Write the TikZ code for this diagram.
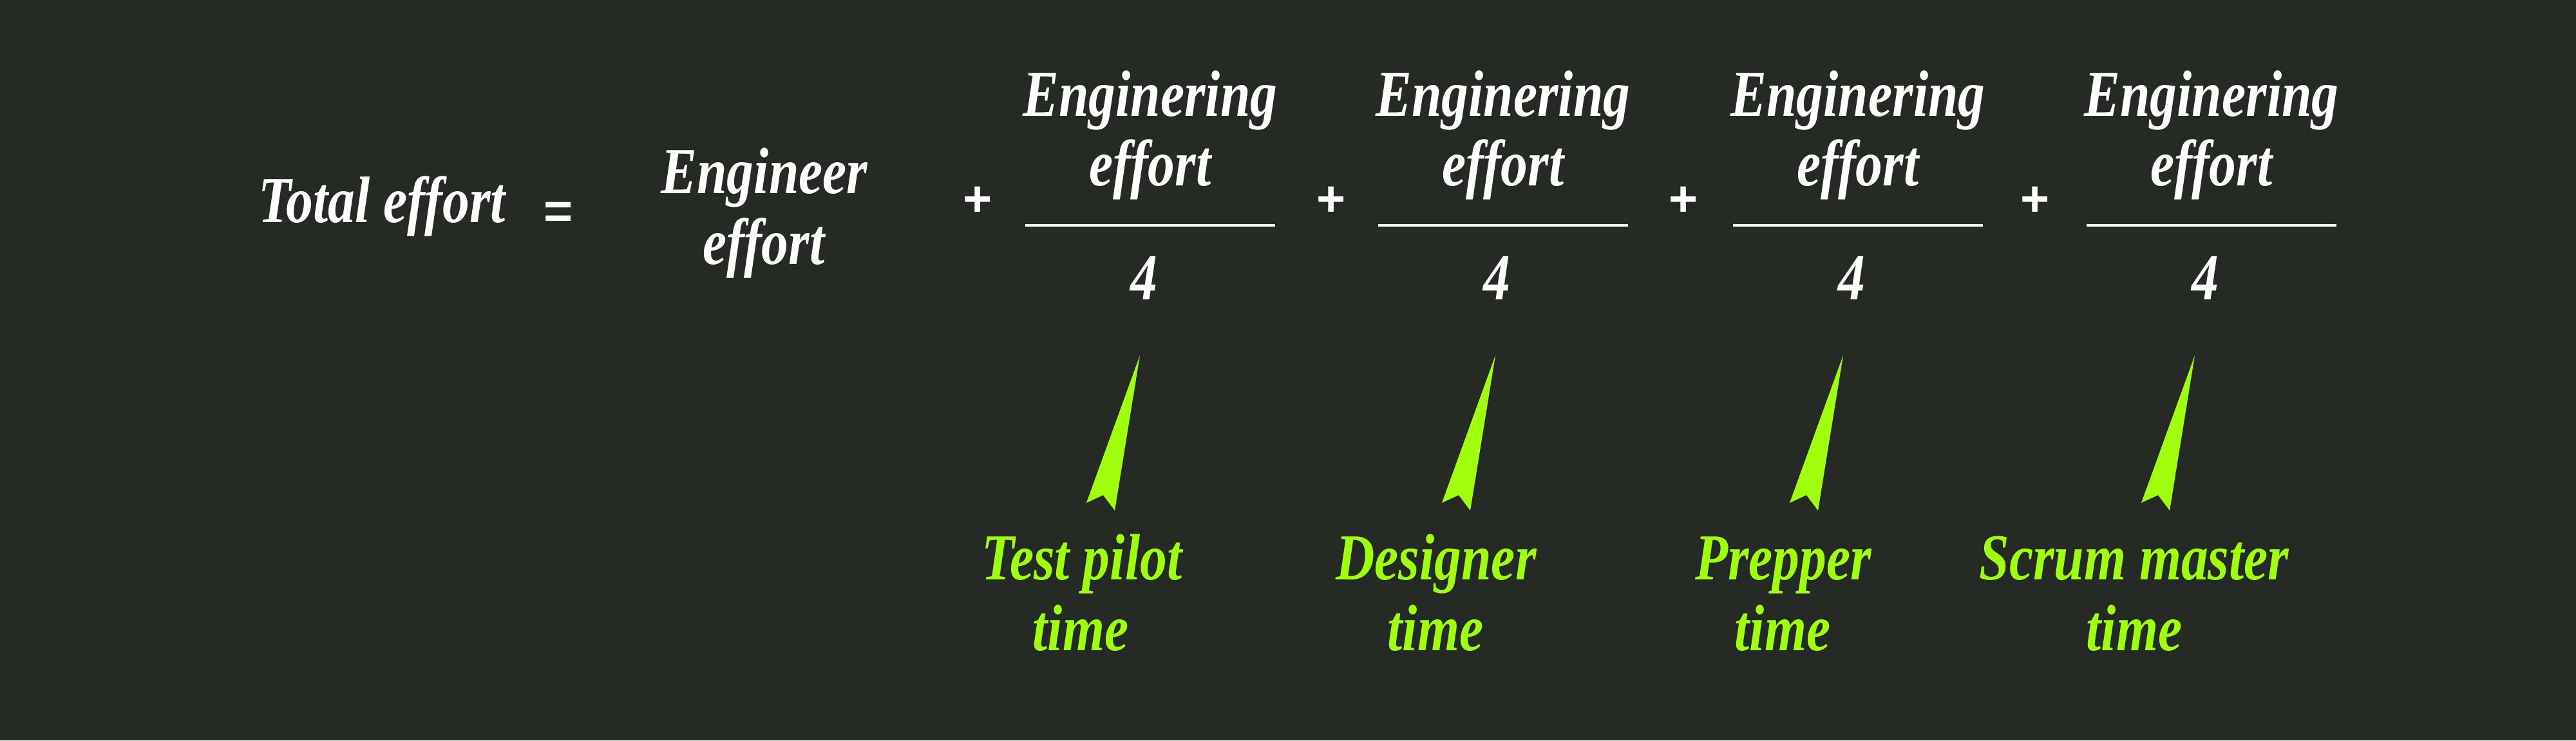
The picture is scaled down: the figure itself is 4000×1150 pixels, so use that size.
\documentclass[tikz,border=0pt]{standalone}
\usepackage{fontspec}
\setmainfont{Liberation Serif}
\newfontfamily\handf[FakeStretch=0.82]{Liberation Serif}
\newfontfamily\symf{Liberation Sans}
\definecolor{bgc}{HTML}{262A25}
\definecolor{limec}{HTML}{A0FF0C}
\tikzset{
  wtxt/.style={text=white, font=\handf\bfseries\itshape\fontsize{29}{34}\selectfont, anchor=base, inner sep=0pt},
  gtxt/.style={wtxt, text=limec},
  optxt/.style={text=white, font=\symf\bfseries\fontsize{22}{26}\selectfont, inner sep=0pt},
  fracbar/.style={draw=white, line width=1.4pt},
  pointer/.style={fill=limec}
}
\begin{document}
\begin{tikzpicture}[x=0.01cm,y=-0.01cm]
\fill[bgc] (0,0) rectangle (4000,1150);
\useasboundingbox (0,0) rectangle (4000,1150);
% left side
\node[wtxt] (total) at (593,345) {Total effort};
\node[optxt] (eq) at (867,334) {=};
\node[wtxt] (eng1) at (1187,300) {Engineer};
\node[wtxt] (eng2) at (1186,410) {effort};
% fractions
\foreach \i/\cx/\px in {1/1786/1518, 2/2334/2067, 3/2885/2614, 4/3434/3160}{
  \node[optxt] (plus\i) at (\px,313) {+};
  \node[wtxt] (numa\i) at (\cx,180) {Enginering};
  \node[wtxt] (numb\i) at (\cx,288) {effort};
  \coordinate (barl\i) at ({\cx-194},350);
  \coordinate (barr\i) at ({\cx+194},350);
  \draw[fracbar] (barl\i) -- (barr\i);
  \node[wtxt] (den\i) at ({\cx-10},465) {4};
}
% pointers
\foreach \i/\tx in {1/1770, 2/2322, 3/2862, 4/3408}{
  \coordinate (tip\i) at (\tx,552);
  \fill[pointer] (tip\i) -- ++(-39,241) -- ++(-18,-24) -- ++(-26,12) -- cycle;
}
% green labels
\node[gtxt] (lab1a) at (1680,900) {Test pilot};
\node[gtxt] (lab1b) at (1678,1010) {time};
\node[gtxt] (lab2a) at (2230,900) {Designer};
\node[gtxt] (lab2b) at (2229,1010) {time};
\node[gtxt] (lab3a) at (2769,900) {Prepper};
\node[gtxt] (lab3b) at (2768,1010) {time};
\node[gtxt] (lab4a) at (3314,900) {Scrum master};
\node[gtxt] (lab4b) at (3314,1010) {time};
\end{tikzpicture}
\end{document}
